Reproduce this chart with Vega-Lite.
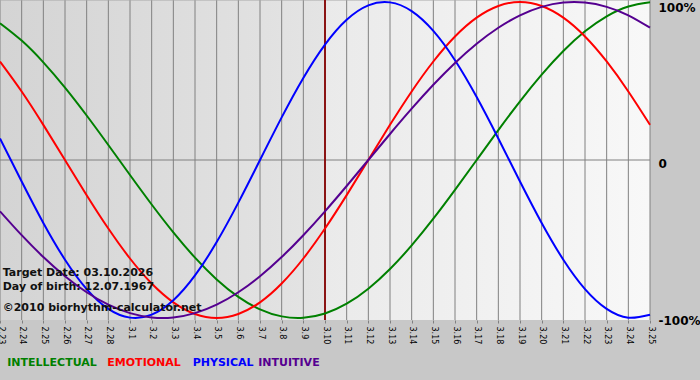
{
  "$schema": "https://vega.github.io/schema/vega-lite/v6.json",
  "width": 650,
  "height": 320,
  "autosize": {"type": "none"},
  "padding": {"left": 0, "top": 0, "right": 50, "bottom": 60},
  "background": "#c8c8c8",
  "config": {"view": {"stroke": null}, "font": "DejaVu Sans"},
  "data": {"values": [
    {"date": "2026-02-23", "INTELLECTUAL": 0.8660, "EMOTIONAL": 0.6235, "PHYSICAL": 0.1362, "INTUITIVE": -0.3247},
    {"date": "2026-02-24", "INTELLECTUAL": 0.7557, "EMOTIONAL": 0.4339, "PHYSICAL": -0.1362, "INTUITIVE": -0.4759},
    {"date": "2026-02-25", "INTELLECTUAL": 0.6182, "EMOTIONAL": 0.2225, "PHYSICAL": -0.3984, "INTUITIVE": -0.6142},
    {"date": "2026-02-26", "INTELLECTUAL": 0.4582, "EMOTIONAL": 0.0, "PHYSICAL": -0.6311, "INTUITIVE": -0.7357},
    {"date": "2026-02-27", "INTELLECTUAL": 0.2817, "EMOTIONAL": -0.2225, "PHYSICAL": -0.8170, "INTUITIVE": -0.8372},
    {"date": "2026-02-28", "INTELLECTUAL": 0.0951, "EMOTIONAL": -0.4339, "PHYSICAL": -0.9423, "INTUITIVE": -0.9158},
    {"date": "2026-03-01", "INTELLECTUAL": -0.0951, "EMOTIONAL": -0.6235, "PHYSICAL": -0.9977, "INTUITIVE": -0.9694},
    {"date": "2026-03-02", "INTELLECTUAL": -0.2817, "EMOTIONAL": -0.7818, "PHYSICAL": -0.9791, "INTUITIVE": -0.9966},
    {"date": "2026-03-03", "INTELLECTUAL": -0.4582, "EMOTIONAL": -0.9010, "PHYSICAL": -0.8879, "INTUITIVE": -0.9966},
    {"date": "2026-03-04", "INTELLECTUAL": -0.6182, "EMOTIONAL": -0.9749, "PHYSICAL": -0.7308, "INTUITIVE": -0.9694},
    {"date": "2026-03-05", "INTELLECTUAL": -0.7557, "EMOTIONAL": -1.0, "PHYSICAL": -0.5196, "INTUITIVE": -0.9158},
    {"date": "2026-03-06", "INTELLECTUAL": -0.8660, "EMOTIONAL": -0.9749, "PHYSICAL": -0.2698, "INTUITIVE": -0.8372},
    {"date": "2026-03-07", "INTELLECTUAL": -0.9450, "EMOTIONAL": -0.9010, "PHYSICAL": 0.0, "INTUITIVE": -0.7357},
    {"date": "2026-03-08", "INTELLECTUAL": -0.9898, "EMOTIONAL": -0.7818, "PHYSICAL": 0.2698, "INTUITIVE": -0.6142},
    {"date": "2026-03-09", "INTELLECTUAL": -0.9989, "EMOTIONAL": -0.6235, "PHYSICAL": 0.5196, "INTUITIVE": -0.4759},
    {"date": "2026-03-10", "INTELLECTUAL": -0.9718, "EMOTIONAL": -0.4339, "PHYSICAL": 0.7308, "INTUITIVE": -0.3247},
    {"date": "2026-03-11", "INTELLECTUAL": -0.9096, "EMOTIONAL": -0.2225, "PHYSICAL": 0.8879, "INTUITIVE": -0.1646},
    {"date": "2026-03-12", "INTELLECTUAL": -0.8146, "EMOTIONAL": 0.0, "PHYSICAL": 0.9791, "INTUITIVE": 0.0},
    {"date": "2026-03-13", "INTELLECTUAL": -0.6901, "EMOTIONAL": 0.2225, "PHYSICAL": 0.9977, "INTUITIVE": 0.1646},
    {"date": "2026-03-14", "INTELLECTUAL": -0.5406, "EMOTIONAL": 0.4339, "PHYSICAL": 0.9423, "INTUITIVE": 0.3247},
    {"date": "2026-03-15", "INTELLECTUAL": -0.3717, "EMOTIONAL": 0.6235, "PHYSICAL": 0.8170, "INTUITIVE": 0.4759},
    {"date": "2026-03-16", "INTELLECTUAL": -0.1893, "EMOTIONAL": 0.7818, "PHYSICAL": 0.6311, "INTUITIVE": 0.6142},
    {"date": "2026-03-17", "INTELLECTUAL": 0.0, "EMOTIONAL": 0.9010, "PHYSICAL": 0.3984, "INTUITIVE": 0.7357},
    {"date": "2026-03-18", "INTELLECTUAL": 0.1893, "EMOTIONAL": 0.9749, "PHYSICAL": 0.1362, "INTUITIVE": 0.8372},
    {"date": "2026-03-19", "INTELLECTUAL": 0.3717, "EMOTIONAL": 1.0, "PHYSICAL": -0.1362, "INTUITIVE": 0.9158},
    {"date": "2026-03-20", "INTELLECTUAL": 0.5406, "EMOTIONAL": 0.9749, "PHYSICAL": -0.3984, "INTUITIVE": 0.9694},
    {"date": "2026-03-21", "INTELLECTUAL": 0.6901, "EMOTIONAL": 0.9010, "PHYSICAL": -0.6311, "INTUITIVE": 0.9966},
    {"date": "2026-03-22", "INTELLECTUAL": 0.8146, "EMOTIONAL": 0.7818, "PHYSICAL": -0.8170, "INTUITIVE": 0.9966},
    {"date": "2026-03-23", "INTELLECTUAL": 0.9096, "EMOTIONAL": 0.6235, "PHYSICAL": -0.9423, "INTUITIVE": 0.9694},
    {"date": "2026-03-24", "INTELLECTUAL": 0.9718, "EMOTIONAL": 0.4339, "PHYSICAL": -0.9977, "INTUITIVE": 0.9158},
    {"date": "2026-03-25", "INTELLECTUAL": 0.9989, "EMOTIONAL": 0.2225, "PHYSICAL": -0.9791, "INTUITIVE": 0.8372}
  ]},
  "layer": [
    {
      "transform": [{"fold": ["INTELLECTUAL", "EMOTIONAL", "PHYSICAL", "INTUITIVE"], "as": ["series", "value"]}],
      "mark": {"type": "line", "interpolate": "natural", "strokeWidth": 2, "opacity": 0},
      "encoding": {
        "x": {"field": "date", "type": "temporal", "title": null, "scale": {"type": "utc", "domain": [{"year": 2026, "month": 2, "date": 23, "utc": true}, {"year": 2026, "month": 3, "date": 25, "utc": true}]},
          "axis": {"title": null, "labelExpr": "utcFormat(datum.value, '%-m.%-d')", "tickCount": {"interval": "day", "step": 1}, "labelAngle": 90, "labelFont": "DejaVu Sans", "labelFontSize": 8, "labelColor": "#000000", "labelPadding": 3, "tickSize": 3, "tickColor": "#808080", "domain": false, "grid": false, "labelFlush": false, "labelOverlap": false, "labelBound": false}},
        "y": {"field": "value", "type": "quantitative", "title": null, "scale": {"domain": [-1.0127, 1.0127], "nice": false, "zero": false},
          "axis": {"title": null, "orient": "right", "values": [-1, 0, 1], "labelExpr": "datum.value > 0.5 ? '100%' : (datum.value < -0.5 ? '-100%' : '0')", "domain": false, "ticks": false, "grid": false, "labelPadding": 8, "labelFont": "DejaVu Sans", "labelFontSize": 12, "labelFontWeight": "bold", "labelColor": "#000000", "labelFlush": false, "labelOverlap": false, "labelBound": false, "labelBaseline": "middle", "labelOffset": {"condition": {"test": "datum.value > 0.5", "value": 5}, "value": 3}}}
      }
    },
    {
      "data": {"values": [{}]},
      "mark": {"type": "rect", "color": {"gradient": "linear", "x1": 0, "y1": 0, "x2": 1, "y2": 0, "stops": [{"offset": 0, "color": "#d4d4d4"}, {"offset": 1, "color": "#e4e4e4"}]}},
      "encoding": {
        "x": {"datum": {"year": 2026, "month": 2, "date": 23, "utc": true}, "type": "temporal"},
        "x2": {"datum": {"year": 2026, "month": 3, "date": 10, "utc": true}},
        "y": {"datum": 1.0127, "type": "quantitative"},
        "y2": {"datum": -1.0127}
      }
    },
    {
      "data": {"values": [{}]},
      "mark": {"type": "rect", "color": {"gradient": "linear", "x1": 0, "y1": 0, "x2": 1, "y2": 0, "stops": [{"offset": 0, "color": "#eaeaea"}, {"offset": 1, "color": "#f8f8f8"}]}},
      "encoding": {
        "x": {"datum": {"year": 2026, "month": 3, "date": 10, "utc": true}, "type": "temporal"},
        "x2": {"datum": {"year": 2026, "month": 3, "date": 25, "utc": true}},
        "y": {"datum": 1.0127, "type": "quantitative"},
        "y2": {"datum": -1.0127}
      }
    },
    {
      "mark": {"type": "rule", "color": "#808080", "strokeWidth": 1},
      "encoding": {
        "x": {"field": "date", "type": "temporal", "title": null}
      }
    },
    {
      "data": {"values": [{}]},
      "mark": {"type": "rule", "color": "#808080", "strokeWidth": 1},
      "encoding": {
        "y": {"datum": 0, "type": "quantitative"}
      }
    },
    {
      "data": {"values": [{}]},
      "mark": {"type": "rule", "color": "#a8a8a8", "strokeWidth": 1},
      "encoding": {
        "y": {"datum": 1.0127, "type": "quantitative"}
      }
    },
    {
      "data": {"values": [{}]},
      "mark": {"type": "rule", "color": "#8b1414", "strokeWidth": 2},
      "encoding": {
        "x": {"datum": {"year": 2026, "month": 3, "date": 10, "utc": true}, "type": "temporal"}
      }
    },
    {
      "transform": [{"fold": ["INTELLECTUAL", "EMOTIONAL", "PHYSICAL", "INTUITIVE"], "as": ["series", "value"]}],
      "mark": {"type": "line", "interpolate": "natural", "strokeWidth": 2},
      "encoding": {
        "x": {"field": "date", "type": "temporal", "title": null},
        "y": {"field": "value", "type": "quantitative", "title": null},
        "color": {"field": "series", "type": "nominal", "scale": {"domain": ["INTELLECTUAL", "EMOTIONAL", "PHYSICAL", "INTUITIVE"], "range": ["#008000", "#ff0000", "#0000ff", "#550090"]}, "legend": null}
      }
    },
    {
      "data": {"values": [{}]},
      "mark": {"type": "text", "text": "Target Date: 03.10.2026", "align": "left", "baseline": "alphabetic", "font": "DejaVu Sans", "fontSize": 11, "fontWeight": "bold", "color": "#111111"},
      "encoding": {
        "x": {"datum": {"year": 2026, "month": 2, "date": 23, "hours": 3, "utc": true}, "type": "temporal"},
        "y": {"datum": -0.734, "type": "quantitative"}
      }
    },
    {
      "data": {"values": [{}]},
      "mark": {"type": "text", "text": "Day of birth: 12.07.1967", "align": "left", "baseline": "alphabetic", "font": "DejaVu Sans", "fontSize": 11, "fontWeight": "bold", "color": "#111111"},
      "encoding": {
        "x": {"datum": {"year": 2026, "month": 2, "date": 23, "hours": 3, "utc": true}, "type": "temporal"},
        "y": {"datum": -0.823, "type": "quantitative"}
      }
    },
    {
      "data": {"values": [{}]},
      "mark": {"type": "text", "text": "©2010 biorhythm-calculator.net", "align": "left", "baseline": "alphabetic", "font": "DejaVu Sans", "fontSize": 11, "fontWeight": "bold", "color": "#111111"},
      "encoding": {
        "x": {"datum": {"year": 2026, "month": 2, "date": 23, "hours": 3, "utc": true}, "type": "temporal"},
        "y": {"datum": -0.956, "type": "quantitative"}
      }
    },
    {
      "data": {"values": [{}]},
      "mark": {"type": "text", "text": "INTELLECTUAL", "align": "left", "baseline": "alphabetic", "font": "DejaVu Sans", "fontSize": 11, "fontWeight": "bold", "color": "#008000"},
      "encoding": {
        "x": {"datum": {"year": 2026, "month": 2, "date": 23, "hours": 8, "minutes": 0, "utc": true}, "type": "temporal"},
        "y": {"datum": -1.304, "type": "quantitative"}
      }
    },
    {
      "data": {"values": [{}]},
      "mark": {"type": "text", "text": "EMOTIONAL", "align": "left", "baseline": "alphabetic", "font": "DejaVu Sans", "fontSize": 11, "fontWeight": "bold", "color": "#ff0000"},
      "encoding": {
        "x": {"datum": {"year": 2026, "month": 2, "date": 27, "hours": 22, "minutes": 52, "utc": true}, "type": "temporal"},
        "y": {"datum": -1.304, "type": "quantitative"}
      }
    },
    {
      "data": {"values": [{}]},
      "mark": {"type": "text", "text": "PHYSICAL", "align": "left", "baseline": "alphabetic", "font": "DejaVu Sans", "fontSize": 11, "fontWeight": "bold", "color": "#0000ff"},
      "encoding": {
        "x": {"datum": {"year": 2026, "month": 3, "date": 3, "hours": 21, "minutes": 26, "utc": true}, "type": "temporal"},
        "y": {"datum": -1.304, "type": "quantitative"}
      }
    },
    {
      "data": {"values": [{}]},
      "mark": {"type": "text", "text": "INTUITIVE", "align": "left", "baseline": "alphabetic", "font": "DejaVu Sans", "fontSize": 11, "fontWeight": "bold", "color": "#550090"},
      "encoding": {
        "x": {"datum": {"year": 2026, "month": 3, "date": 6, "hours": 22, "minutes": 0, "utc": true}, "type": "temporal"},
        "y": {"datum": -1.304, "type": "quantitative"}
      }
    }
  ]
}
